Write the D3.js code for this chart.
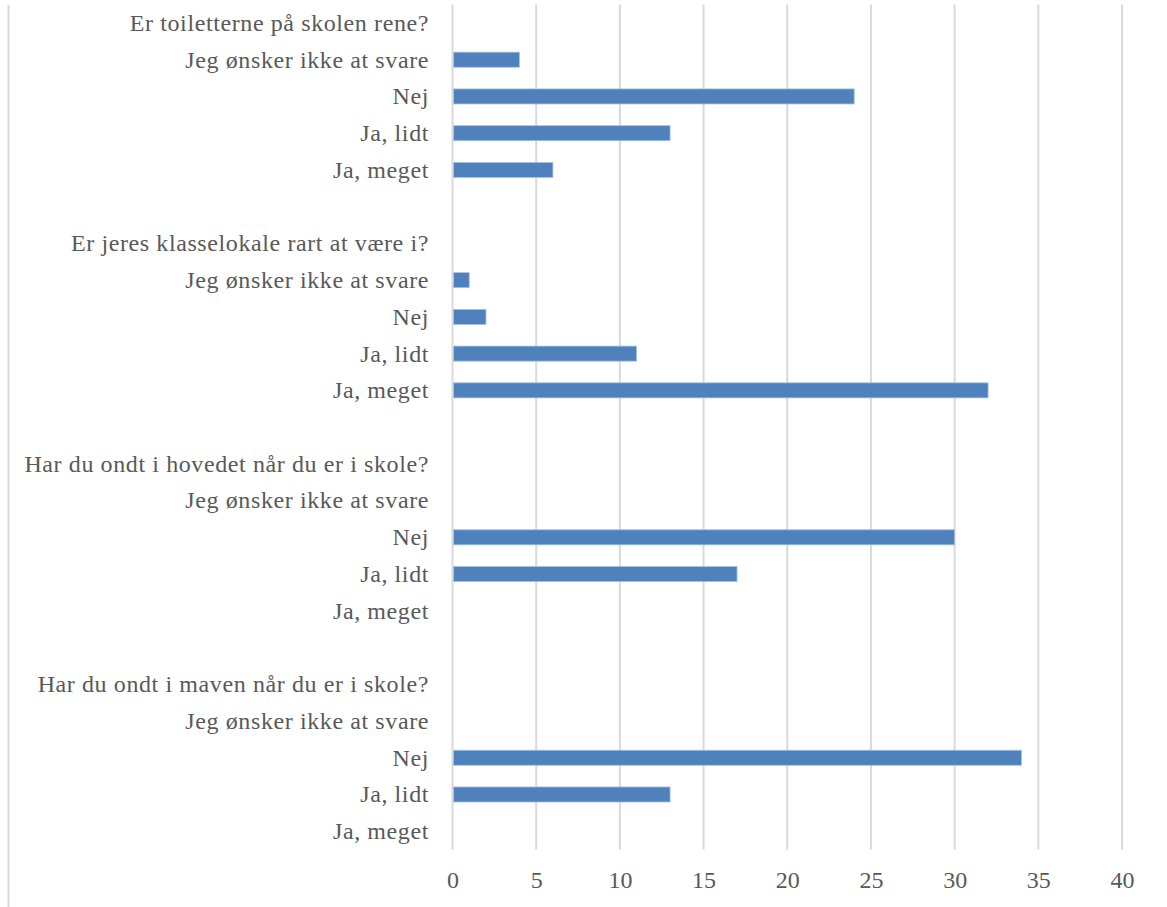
<!DOCTYPE html>
<html><head><meta charset="utf-8">
<script src="https://cdn.jsdelivr.net/npm/d3@7"></script>
<style>html,body{margin:0;padding:0;background:#fff;}svg{display:block;}</style>
</head><body>
<script>
const questions = [
  "Er toiletterne på skolen rene?",
  "Er jeres klasselokale rart at være i?",
  "Har du ondt i hovedet når du er i skole?",
  "Har du ondt i maven når du er i skole?"
];
const answers = ["Jeg ønsker ikke at svare", "Nej", "Ja, lidt", "Ja, meget"];
const toiletValues = [4, 24, 13, 6];
const klasseValues = [1, 2, 11, 32];
const hovedValues = [null, 30, 17, null];
const mavenValues = [null, 34, 13, null];
const seriesValues = [toiletValues, klasseValues, hovedValues, mavenValues];
const xTicks = [0, 5, 10, 15, 20, 25, 30, 35, 40];

const W = 1167, H = 907;
const font = "'Liberation Serif', serif";
const textColor = "#595959";

// build rows top to bottom
const rows = [];
questions.forEach((q, qi) => {
  rows.push({id: "q" + qi, label: q, value: null});
  answers.forEach((a, ai) => rows.push({id: "q" + qi + "a" + ai, label: a, value: seriesValues[qi][ai]}));
  if (qi < questions.length - 1) rows.push({id: "b" + qi, label: "", value: null});
});

const svg = d3.select("body").append("svg").attr("width", W).attr("height", H);

const x = d3.scaleLinear().domain([0, 40]).range([452.5, 1122]);
const yRow = d3.scaleBand().domain(rows.map(r => r.id)).range([4.6, 849.6]);
const barH = yRow.bandwidth() * 0.41;

// chart border (left)
svg.append("line").attr("x1", 8.5).attr("x2", 8.5).attr("y1", 5).attr("y2", H)
  .attr("stroke", "#d9d9d9").attr("stroke-width", 2);

// gridlines
svg.append("g").selectAll("line").data(xTicks).join("line")
  .attr("x1", d => x(d)).attr("x2", d => x(d))
  .attr("y1", 4.6).attr("y2", 849.6)
  .attr("stroke", "#d9d9d9").attr("stroke-width", 2);

// bars
svg.append("g").selectAll("rect").data(rows.filter(r => r.value != null)).join("rect")
  .attr("x", x(0) + 1)
  .attr("y", d => yRow(d.id) + yRow.bandwidth() / 2 - barH / 2)
  .attr("width", d => x(d.value) - x(0) - 1)
  .attr("height", barH)
  .attr("fill", "#4f81bd")
  .attr("stroke", "#a9c2e2").attr("stroke-width", 0.8);

// category labels
svg.append("g").selectAll("text").data(rows).join("text")
  .attr("x", 429)
  .attr("y", d => yRow(d.id) + yRow.bandwidth() / 2)
  .attr("dy", "0.33em")
  .attr("text-anchor", "end")
  .attr("font-family", font).attr("font-size", 24)
  .attr("letter-spacing", 0.6)
  .attr("fill", textColor)
  .text(d => d.label);

// x axis tick labels
const ax = d3.axisBottom(x).tickValues(xTicks).tickSize(0).tickPadding(0);
const axG = svg.append("g").attr("transform", "translate(0,880)").call(ax);
axG.select(".domain").remove();
axG.selectAll("text").attr("font-family", font).attr("font-size", 24)
  .attr("fill", textColor).attr("dy", "0.33em").attr("y", 0);
</script>
</body></html>
